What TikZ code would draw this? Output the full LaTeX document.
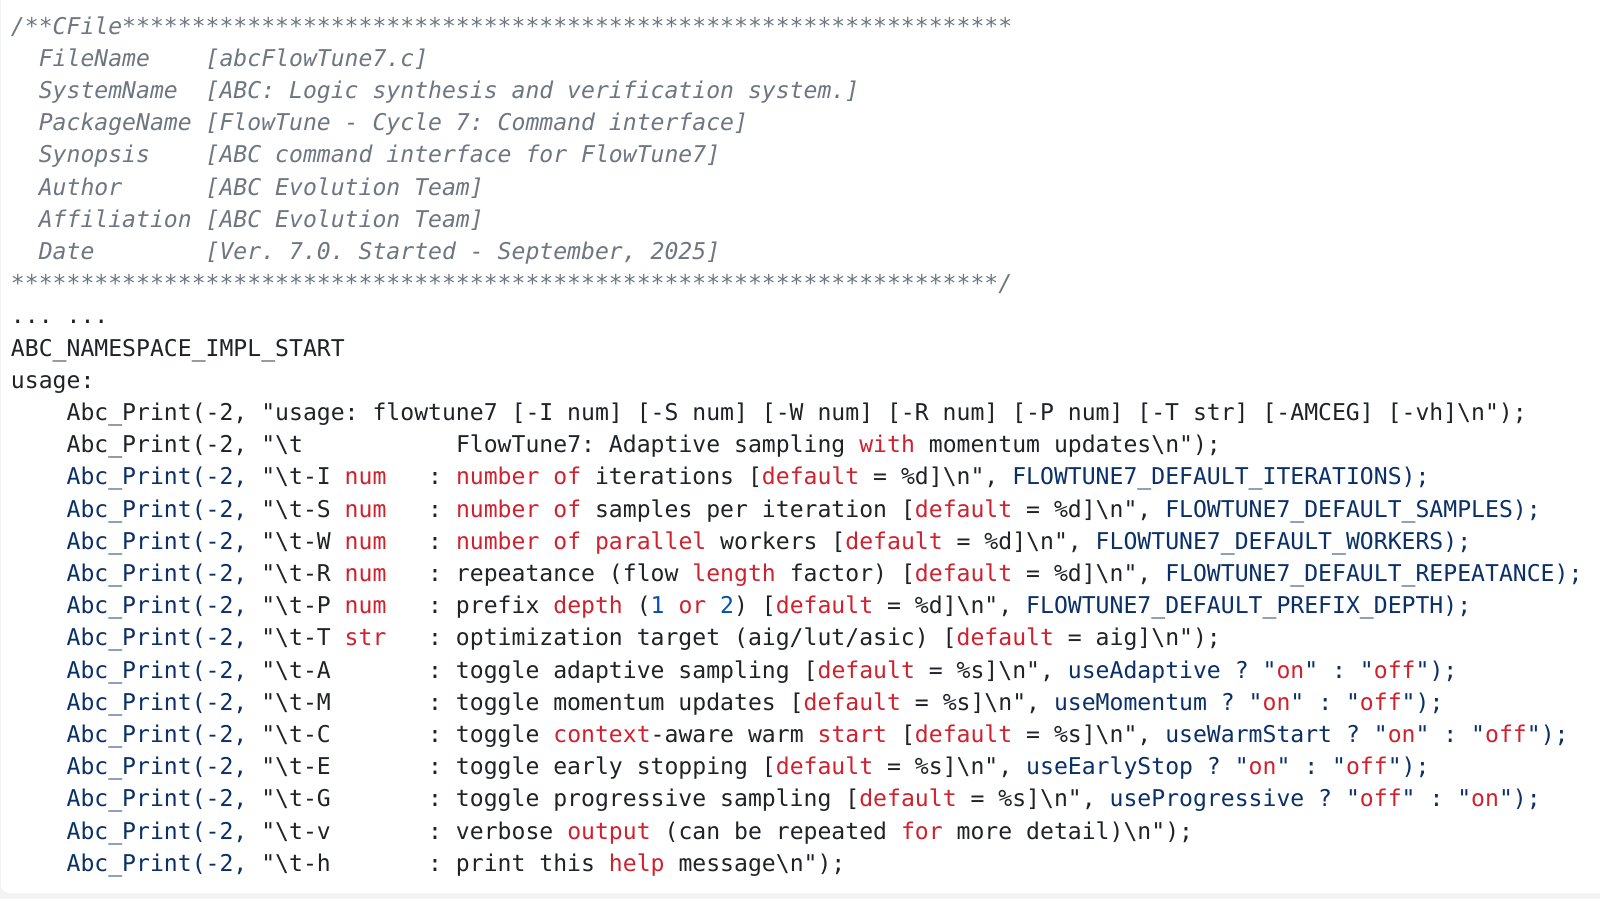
\documentclass[tikz,border=0pt]{standalone}
\usepackage{fontspec}
\setmonofont{DejaVu Sans Mono}
\definecolor{plain}{HTML}{1F2328}
\definecolor{cmtgray}{HTML}{6E7781}
\definecolor{kwred}{HTML}{CF222E}
\definecolor{idnavy}{HTML}{0A3069}
\definecolor{numblue}{HTML}{0550AE}
\definecolor{pagegray}{HTML}{F2F3F5}
\newcommand\codefont{\ttfamily\fontsize{11.55}{16.1}\selectfont\frenchspacing}
\newcommand\kw[1]{\textcolor{kwred}{#1}}
\newcommand\ident[1]{\textcolor{idnavy}{#1}}
\newcommand\numlit[1]{\textcolor{numblue}{#1}}
\newcommand\bsl{\textbackslash}
\tikzset{
	codeline/.style={anchor=base west, inner sep=0pt, outer sep=0pt, text=plain, font=\codefont},
	cmtline/.style={codeline, text=cmtgray, font=\codefont\itshape}
}

\begin{document}
\begin{tikzpicture}[x=6.95pt, y=-16.1pt]
			%%%%% START %%%%%
			
			\useasboundingbox (-0.791, -1.056) rectangle (114.317, 26.863);
			\fill[pagegray] (-0.791, -1.056) rectangle (114.317, 26.863);
			\fill[white, rounded corners=4pt] (-0.72, -2) rectangle (116, 26.677);
			
			\node[cmtline] (cfile) at (0, 0) {/**CFile****************************************************************};
			\node[cmtline] (fname) at (2, 1) {FileName~~~~[abcFlowTune7.c]};
			\node[cmtline] (sysname) at (2, 2) {SystemName~~[ABC: Logic synthesis and verification system.]};
			\node[cmtline] (pkgname) at (2, 3) {PackageName [FlowTune - Cycle 7: Command interface]};
			\node[cmtline] (synopsis) at (2, 4) {Synopsis~~~~[ABC command interface for FlowTune7]};
			\node[cmtline] (author) at (2, 5) {Author~~~~~~[ABC Evolution Team]};
			\node[cmtline] (affil) at (2, 6) {Affiliation [ABC Evolution Team]};
			\node[cmtline] (date) at (2, 7) {Date~~~~~~~~[Ver. 7.0. Started - September, 2025]};
			\node[cmtline] (cend) at (0, 8) {***********************************************************************/};
			
			\node[codeline] (dots) at (0, 9) {... ...};
			\node[codeline] (nsstart) at (0, 10) {ABC\_NAMESPACE\_IMPL\_START};
			\node[codeline] (usage) at (0, 11) {usage:};
			
			\node[codeline] (pusage) at (4, 12) {Abc\_Print(-2, "usage: flowtune7 [-I num] [-S num] [-W num] [-R num] [-P num] [-T str] [-AMCEG] [-vh]\bsl n");};
			\node[codeline] (ptitle) at (4, 13) {Abc\_Print(-2, "\bsl t~~~~~~~~~~~FlowTune7: Adaptive sampling \kw{with} momentum updates\bsl n");};
			
			\node[codeline] (optI) at (4, 14) {\ident{Abc\_Print(-2,} "\bsl t-I \kw{num}~~~: \kw{number of} iterations [\kw{default} = \%d]\bsl n", \ident{FLOWTUNE7\_DEFAULT\_ITERATIONS);}};
			\node[codeline] (optS) at (4, 15) {\ident{Abc\_Print(-2,} "\bsl t-S \kw{num}~~~: \kw{number of} samples per iteration [\kw{default} = \%d]\bsl n", \ident{FLOWTUNE7\_DEFAULT\_SAMPLES);}};
			\node[codeline] (optW) at (4, 16) {\ident{Abc\_Print(-2,} "\bsl t-W \kw{num}~~~: \kw{number of parallel} workers [\kw{default} = \%d]\bsl n", \ident{FLOWTUNE7\_DEFAULT\_WORKERS);}};
			\node[codeline] (optR) at (4, 17) {\ident{Abc\_Print(-2,} "\bsl t-R \kw{num}~~~: repeatance (flow \kw{length} factor) [\kw{default} = \%d]\bsl n", \ident{FLOWTUNE7\_DEFAULT\_REPEATANCE);}};
			\node[codeline] (optP) at (4, 18) {\ident{Abc\_Print(-2,} "\bsl t-P \kw{num}~~~: prefix \kw{depth} (\numlit{1} \kw{or} \numlit{2}) [\kw{default} = \%d]\bsl n", \ident{FLOWTUNE7\_DEFAULT\_PREFIX\_DEPTH);}};
			\node[codeline] (optT) at (4, 19) {\ident{Abc\_Print(-2,} "\bsl t-T \kw{str}~~~: optimization target (aig/lut/asic) [\kw{default} = aig]\bsl n");};
			\node[codeline] (optA) at (4, 20) {\ident{Abc\_Print(-2,} "\bsl t-A~~~~~~~: toggle adaptive sampling [\kw{default} = \%s]\bsl n", \ident{useAdaptive ? "}\kw{on}\ident{" : "}\kw{off}\ident{");}};
			\node[codeline] (optM) at (4, 21) {\ident{Abc\_Print(-2,} "\bsl t-M~~~~~~~: toggle momentum updates [\kw{default} = \%s]\bsl n", \ident{useMomentum ? "}\kw{on}\ident{" : "}\kw{off}\ident{");}};
			\node[codeline] (optC) at (4, 22) {\ident{Abc\_Print(-2,} "\bsl t-C~~~~~~~: toggle \kw{context}-aware warm \kw{start} [\kw{default} = \%s]\bsl n", \ident{useWarmStart ? "}\kw{on}\ident{" : "}\kw{off}\ident{");}};
			\node[codeline] (optE) at (4, 23) {\ident{Abc\_Print(-2,} "\bsl t-E~~~~~~~: toggle early stopping [\kw{default} = \%s]\bsl n", \ident{useEarlyStop ? "}\kw{on}\ident{" : "}\kw{off}\ident{");}};
			\node[codeline] (optG) at (4, 24) {\ident{Abc\_Print(-2,} "\bsl t-G~~~~~~~: toggle progressive sampling [\kw{default} = \%s]\bsl n", \ident{useProgressive ? "}\kw{off}\ident{" : "}\kw{on}\ident{");}};
			\node[codeline] (optv) at (4, 25) {\ident{Abc\_Print(-2,} "\bsl t-v~~~~~~~: verbose \kw{output} (can be repeated \kw{for} more detail)\bsl n");};
			\node[codeline] (opth) at (4, 26) {\ident{Abc\_Print(-2,} "\bsl t-h~~~~~~~: print this \kw{help} message\bsl n");};
			
			%%%%% END %%%%%
\end{tikzpicture}
\end{document}
